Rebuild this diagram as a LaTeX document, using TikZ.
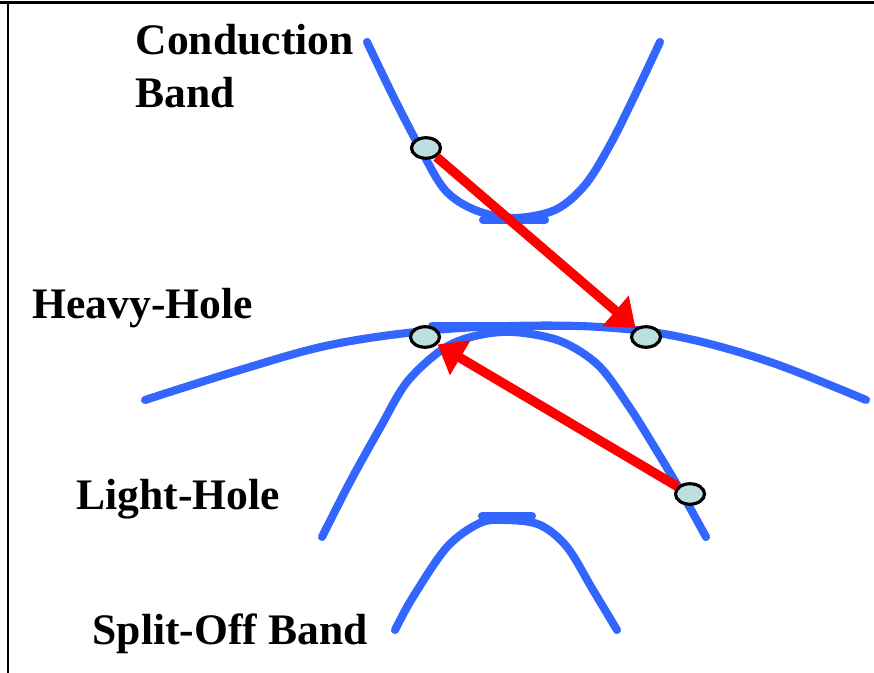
\documentclass[tikz,border=0pt]{standalone}
\usepackage{fontspec}
\setmainfont{Liberation Serif}
\usetikzlibrary{arrows.meta,shapes.geometric}
\definecolor{bandblue}{HTML}{3366FF}
\definecolor{dotfill}{RGB}{188,223,224}

\begin{document}
\begin{tikzpicture}[x=0.1mm, y=-0.1mm, >={Triangle[length=7.5pt,width=11pt]},
  band/.style={bandblue, line width=2.3pt, line cap=round, line join=round},
  jump/.style={red, line width=2.7pt, ->},
  carrier/.style={ellipse, draw, line width=0.9pt, fill=dotfill,
    minimum width=2.9mm, minimum height=2.05mm, inner sep=0pt},
  lbl/.style={font=\bfseries\fontsize{12.4}{15.1}\selectfont, inner sep=0pt,
    anchor=base west, align=left}]
  \useasboundingbox (0,0) rectangle (874,673);
  \draw[line width=0.85pt] (0,2.5) -- (874,2.5);
  \draw[line width=0.6pt] (8,2.5) -- (8,673);
  % bands
  \draw[band] plot[smooth, tension=0.55] coordinates {(367,42) (395,100) (420,148)
    (445,190) (475,210) (513,218) (555,210) (585,185) (610,145) (635,95) (660,42)};
  \draw[band] plot[smooth, tension=0.6] coordinates {(145,400) (240,370) (330,345)
    (425,331) (510,326) (600,327) (680,337) (770,362) (866,400)};
  \draw[band] plot[smooth, tension=0.55] coordinates {(322,537) (350,482) (380,428)
    (407,382) (443,349) (475,336) (513,332) (560,341) (598,365) (628,405)
    (655,448) (680,490) (706,537)};
  \draw[band] plot[smooth, tension=0.55] coordinates {(395,630) (413,597) (447,547)
    (480,523) (507,520) (540,525) (567,547) (593,590) (617,630)};
  \draw[band] (483,220) -- (545,220);
  \draw[band] (432,326) -- (580,326);
  \draw[band] (482,516) -- (532,516);
  % carriers
  \node[carrier] (e1) at (426,148) {};
  \node[carrier] (e2) at (425,337) {};
  \node[carrier] (e3) at (646,337) {};
  \node[carrier] (e4) at (690,494) {};
  \draw[jump] (e1) -- (e3);
  \draw[jump] (e4) -- (e2);
  % labels
  \node[lbl] (cb) at (135,108) {Conduction\\Band};
  \node[lbl] (hh) at (32,319) {Heavy-Hole};
  \node[lbl] (lh) at (76,510) {Light-Hole};
  \node[lbl] (so) at (92,645) {Split-Off Band};
\end{tikzpicture}
\end{document}
